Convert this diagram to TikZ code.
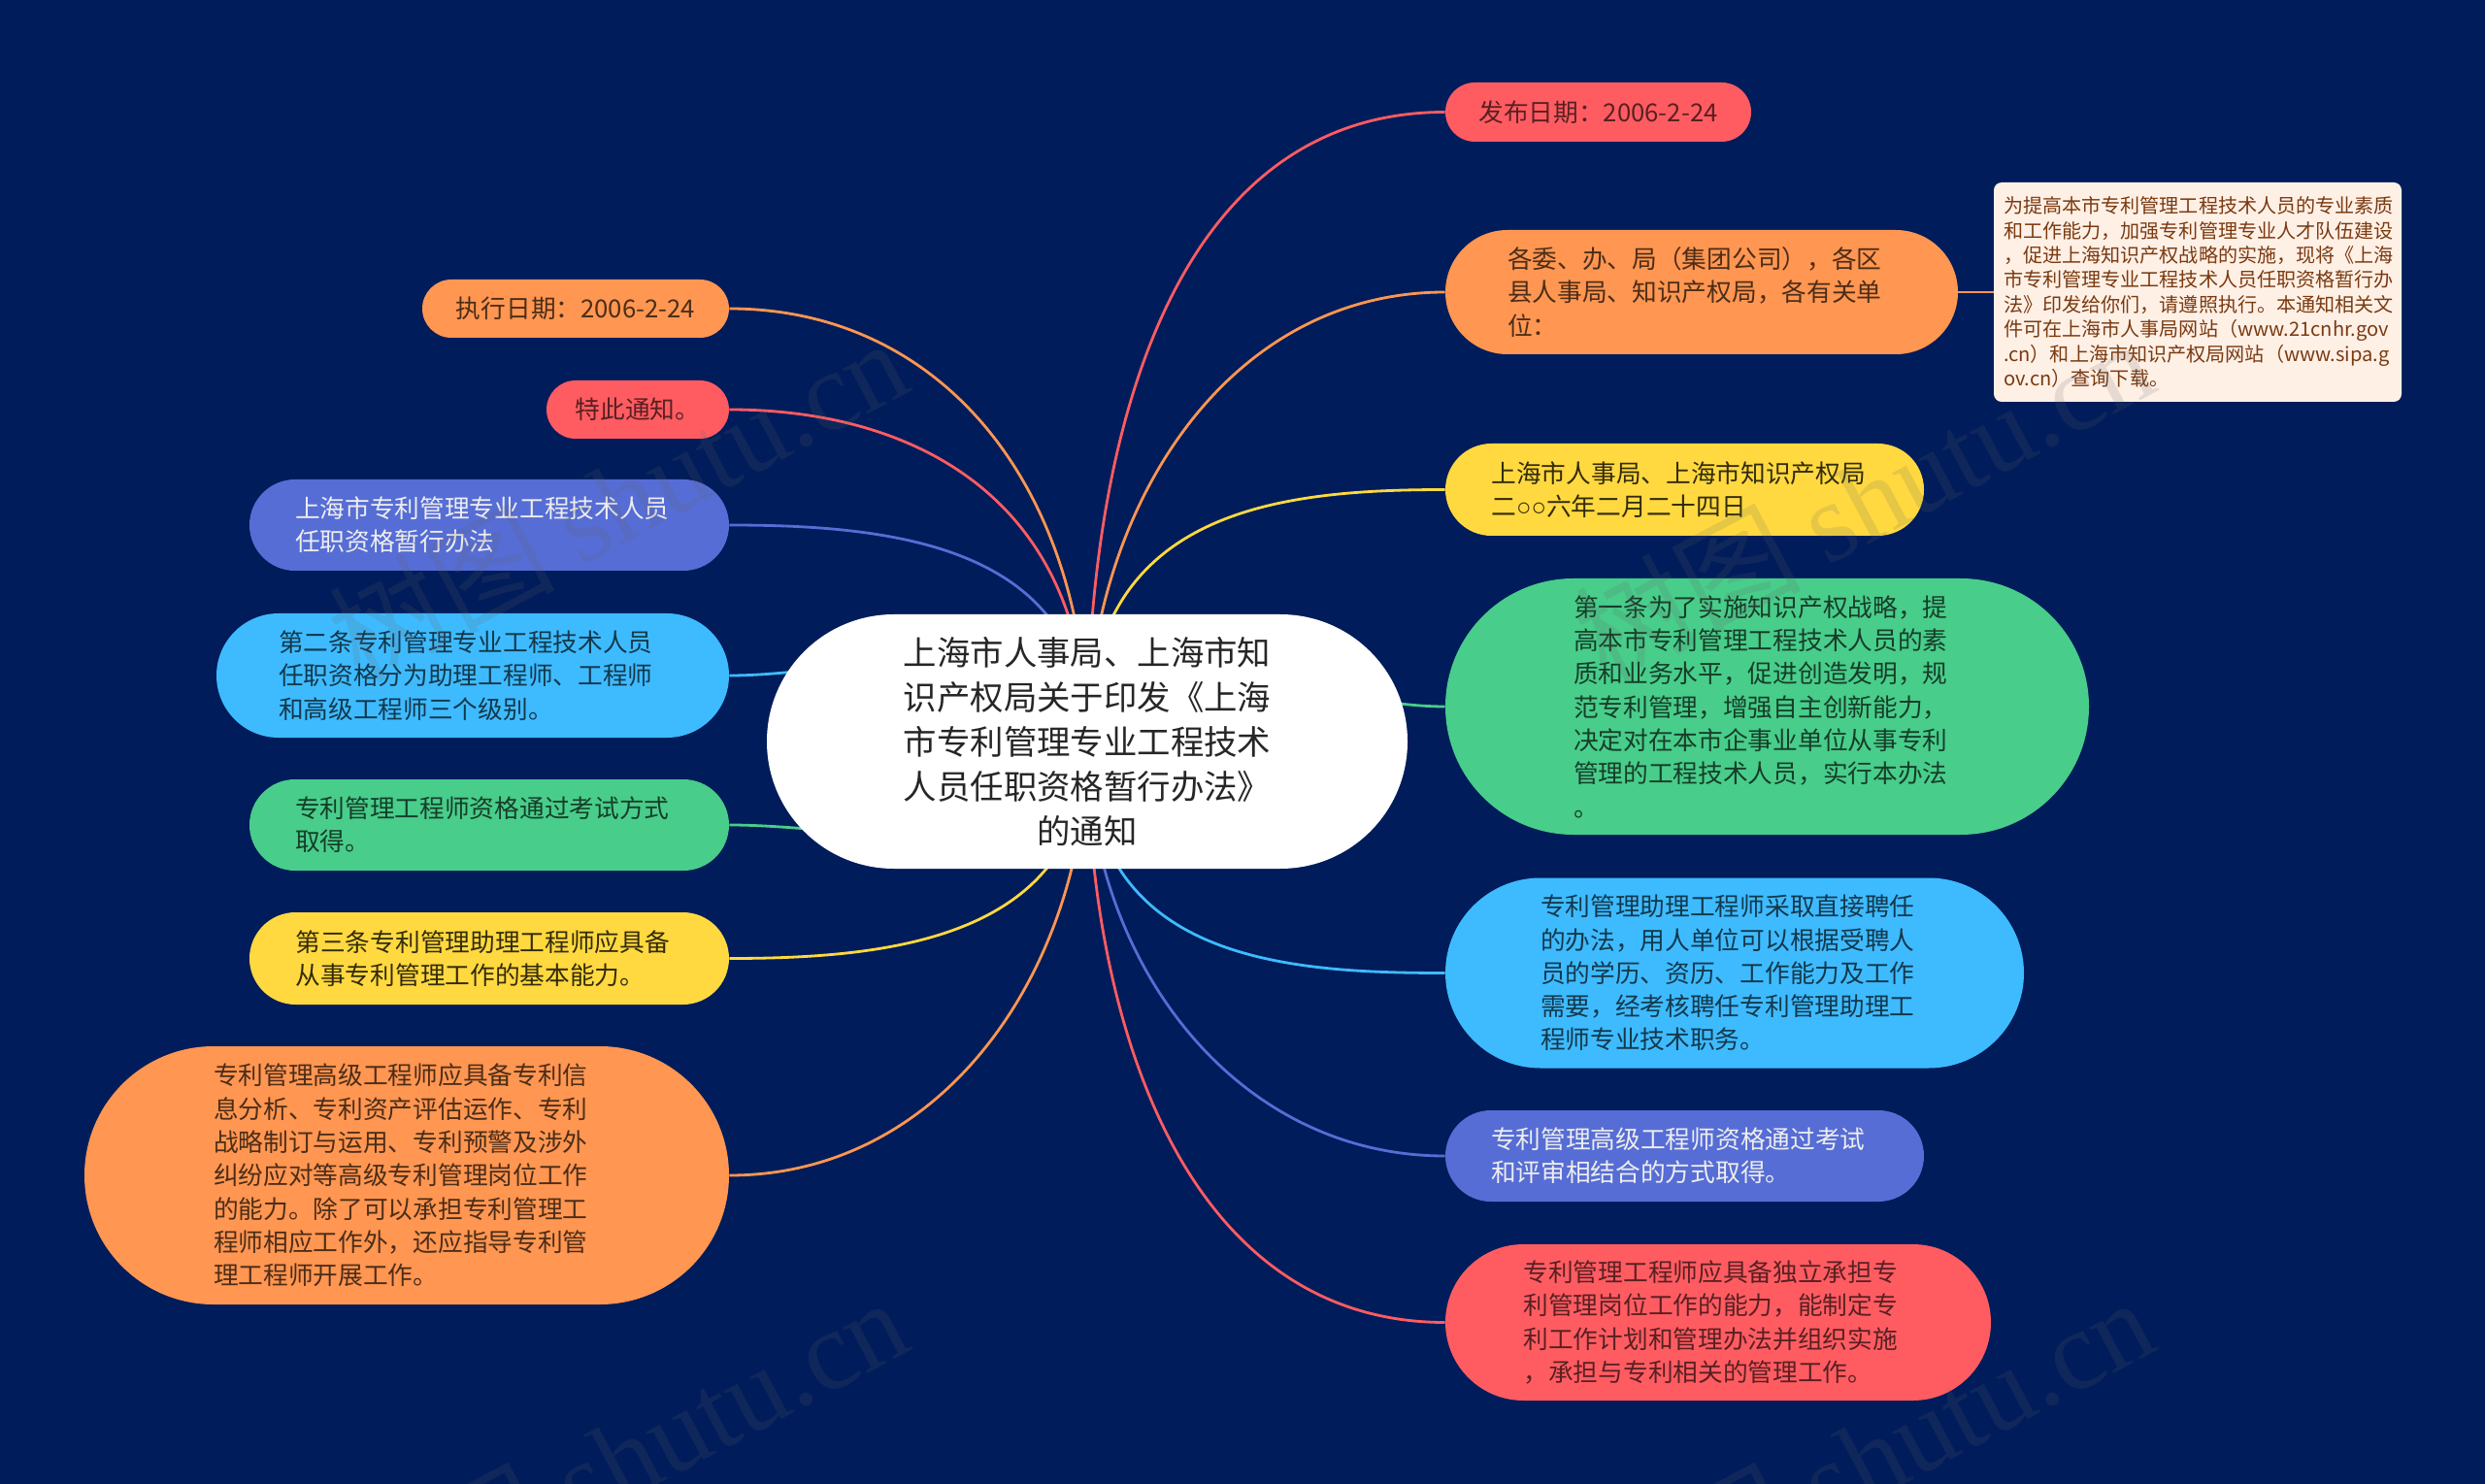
\documentclass[tikz,border=0pt]{standalone}
\usepackage{fontspec}
\setmainfont{Noto Sans CJK SC}
\newfontfamily\markfont{Liberation Serif}
\newfontfamily\ringfont{Liberation Sans}
\usepackage{xcolor}
\usetikzlibrary{positioning,backgrounds,shapes.misc}
\definecolor{mapnavy}{HTML}{001C5A}
\definecolor{mapred}{HTML}{FF5C62}
\definecolor{maporange}{HTML}{FF9651}
\definecolor{mapyellow}{HTML}{FFD93F}
\definecolor{mapgreen}{HTML}{48CD8A}
\definecolor{mapblue}{HTML}{3EBBFF}
\definecolor{mapindigo}{HTML}{566DD5}
\definecolor{notefill}{HTML}{FFF0E6}
\definecolor{notetext}{HTML}{7A3A10}
\tikzset{
  topic/.style={rounded rectangle,inner xsep=0pt,inner ysep=0pt,align=left,
    font=\fontsize{12.85}{17.15}\selectfont},
  redtopic/.style={topic,fill=mapred,text=mapred!35!black},
  orangetopic/.style={topic,fill=maporange,text=maporange!30!black},
  yellowtopic/.style={topic,fill=mapyellow,text=mapyellow!20!black},
  greentopic/.style={topic,fill=mapgreen,text=mapgreen!30!black},
  bluetopic/.style={topic,fill=mapblue,text=mapblue!30!black},
  indigotopic/.style={topic,fill=mapindigo,text=white!93!black},
  rootnode/.style={rounded rectangle,fill=white,text=black!85,align=center,inner sep=0pt,
    minimum width=330pt,minimum height=131pt,
    font=\fontsize{17.2}{23}\selectfont},
  notenode/.style={rectangle,rounded corners=4pt,fill=notefill,text=notetext,align=left,
    inner sep=0pt,text width=200pt,minimum width=210pt,minimum height=113pt,
    font=\fontsize{10.05}{12.7}\selectfont},
  markstyle/.style={rotate=28,text=black!60,text opacity=0.16,font=\fontsize{58}{58}\selectfont},
  linkred/.style={draw=mapred,line width=1.4pt},
  linkorange/.style={draw=maporange,line width=1.4pt},
  linkyellow/.style={draw=mapyellow,line width=1.4pt},
  linkgreen/.style={draw=mapgreen,line width=1.4pt},
  linkblue/.style={draw=mapblue,line width=1.4pt},
  linkindigo/.style={draw=mapindigo,line width=1.4pt}
}
\begin{document}
\begin{tikzpicture}[on grid]
   \useasboundingbox (0,0) rectangle (1280pt,-764.5pt);
   \node[rootnode] (root) at (560pt,-382pt)
     {上海市人事局、上海市知\\识产权局关于印发《上海\\市专利管理专业工程技术\\人员任职资格暂行办法》\\的通知};
   % right side
   \node[redtopic,minimum width=157.5pt,minimum height=30.5pt] (fabu) [above right=324.25pt and 263.25pt of root] {发布日期：2006-2-24};
   \node[orangetopic,text width=200pt,minimum width=264pt,minimum height=64pt] (gewei) [above right=231.5pt and 316.5pt of root]
     {各委、办、局（集团公司），各区\\县人事局、知识产权局，各有关单\\位：};
   \node[notenode] (tongzhiwen) [right=255.5pt of gewei]
     {为提高本市专利管理工程技术人员的专业素质\\和工作能力，加强专利管理专业人才队伍建设\\，促进上海知识产权战略的实施，现将《上海\\市专利管理专业工程技术人员任职资格暂行办\\法》印发给你们，请遵照执行。本通知相关文\\件可在上海市人事局网站（www.21cnhr.gov\\.cn）和上海市知识产权局网站（www.sipa.g\\ov.cn）查询下载。};
   \node[yellowtopic,text width=199pt,minimum width=246.5pt,minimum height=47.5pt] (renshi) [above right=129.75pt and 307.75pt of root]
     {上海市人事局、上海市知识产权局\\二{\ringfont ○○}六年二月二十四日};
   \node[greentopic,text width=199.5pt,minimum width=331.5pt,minimum height=132pt] (diyi) [above right=18pt and 350.25pt of root]
     {第一条为了实施知识产权战略，提\\高本市专利管理工程技术人员的素\\质和业务水平，促进创造发明，规\\范专利管理，增强自主创新能力，\\决定对在本市企事业单位从事专利\\管理的工程技术人员，实行本办法\\。};
   \node[bluetopic,text width=200pt,minimum width=298pt,minimum height=98pt] (zhuli) [below right=119.25pt and 333.5pt of root]
     {专利管理助理工程师采取直接聘任\\的办法，用人单位可以根据受聘人\\员的学历、资历、工作能力及工作\\需要，经考核聘任专利管理助理工\\程师专业技术职务。};
   \node[indigotopic,text width=199.5pt,minimum width=246.5pt,minimum height=47pt] (gaoji) [below right=213.5pt and 307.75pt of root]
     {专利管理高级工程师资格通过考试\\和评审相结合的方式取得。};
   \node[redtopic,text width=200.5pt,minimum width=281pt,minimum height=80.5pt] (gongcheng) [below right=299.25pt and 325pt of root]
     {专利管理工程师应具备独立承担专\\利管理岗位工作的能力，能制定专\\利工作计划和管理办法并组织实施\\，承担与专利相关的管理工作。};
   % left side
   \node[orangetopic,minimum width=158pt,minimum height=30pt] (zhixing) [above left=223pt and 263.5pt of root] {执行日期：2006-2-24};
   \node[redtopic,minimum width=94pt,minimum height=30pt] (tongzhi) [above left=171pt and 231.5pt of root] {特此通知。};
   \node[indigotopic,text width=200pt,minimum width=247pt,minimum height=47pt] (banfa) [above left=111.5pt and 308pt of root]
     {上海市专利管理专业工程技术人员\\任职资格暂行办法};
   \node[bluetopic,text width=200pt,minimum width=264pt,minimum height=64pt] (dier) [above left=34pt and 316.5pt of root]
     {第二条专利管理专业工程技术人员\\任职资格分为助理工程师、工程师\\和高级工程师三个级别。};
   \node[greentopic,text width=200pt,minimum width=247pt,minimum height=47pt] (kaoshi) [below left=43pt and 308pt of root]
     {专利管理工程师资格通过考试方式\\取得。};
   \node[yellowtopic,text width=199.5pt,minimum width=247pt,minimum height=47.5pt] (disan) [below left=111.75pt and 308pt of root]
     {第三条专利管理助理工程师应具备\\从事专利管理工作的基本能力。};
   \node[orangetopic,text width=199pt,minimum width=332pt,minimum height=133pt] (gaojineng) [below left=223.5pt and 350.5pt of root]
     {专利管理高级工程师应具备专利信\\息分析、专利资产评估运作、专利\\战略制订与运用、专利预警及涉外\\纠纷应对等高级专利管理岗位工作\\的能力。除了可以承担专利管理工\\程师相应工作外，还应指导专利管\\理工程师开展工作。};
   \begin{scope}[on background layer]
     \fill[mapnavy] (0,0) rectangle (1280pt,-764.5pt);
     \path[linkred] (fabu.west) edge [out=180,in=90] (root.center);
     \path[linkorange] (gewei.west) edge [out=180,in=90] (root.center);
     \path[linkyellow] (renshi.west) edge [out=180,in=90,in looseness=1.35] (root.center);
     \path[linkgreen] (diyi.west) edge [out=180,in=90] (root.center);
     \path[linkblue] (zhuli.west) edge [out=180,in=-90,in looseness=1.3] (root.center);
     \path[linkindigo] (gaoji.west) edge [out=180,in=-90] (root.center);
     \path[linkred] (gongcheng.west) edge [out=180,in=-90] (root.center);
     \path[linkorange] (zhixing.east) edge [out=0,in=90,in looseness=1.12] (root.center);
     \path[linkred] (tongzhi.east) edge [out=0,in=90,in looseness=1.25] (root.center);
     \path[linkindigo] (banfa.east) edge [out=0,in=90,in looseness=1.2] (root.center);
     \path[linkblue] (dier.east) edge [out=0,in=90] (root.center);
     \path[linkgreen] (kaoshi.east) edge [out=0,in=-90] (root.center);
     \path[linkyellow] (disan.east) edge [out=0,in=-90,in looseness=1.2] (root.center);
     \path[linkorange] (gaojineng.east) edge [out=0,in=-90] (root.center);
     \path[linkorange] (gewei.east) edge (tongzhiwen.west);
   \end{scope}
   % faint marks over the map
   \begin{scope}
     \clip (0,0) rectangle (1280pt,-764.5pt);
     \node[markstyle] (markA) at (318pt,-257pt) {树图 {\markfont shutu.cn}};
     \node[markstyle] (markB) at (960pt,-257pt) {树图 {\markfont shutu.cn}};
     \node[markstyle] (markC) at (318pt,-751pt) {树图 {\markfont shutu.cn}};
     \node[markstyle] (markD) at (960pt,-751pt) {树图 {\markfont shutu.cn}};
   \end{scope}
\end{tikzpicture}
\end{document}
